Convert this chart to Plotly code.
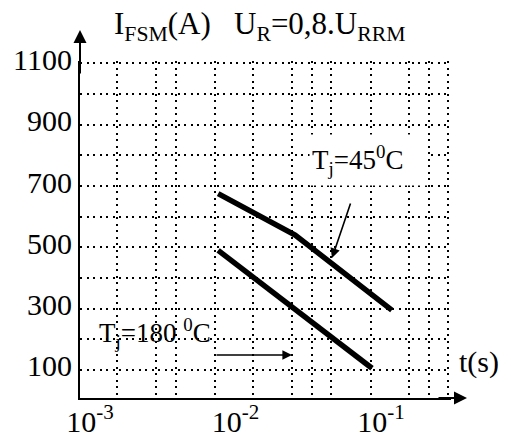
import plotly.graph_objects as go

# Surge current vs. duration, two junction temperatures
t_45 = [0.0089, 0.0301, 0.139]
i_45 = [675, 540, 295]
t_180 = [0.0089, 0.1016]
i_180 = [490, 105]

# Axis ticks
x_tick_vals = [0.001, 0.01, 0.1]
x_tick_text = ["10<sup>-3</sup>", "10<sup>-2</sup>", "10<sup>-1</sup>"]
x_grid_vals = [0.001796, 0.00333, 0.00457, 0.00847, 0.01546, 0.02864,
               0.03929, 0.0531, 0.1, 0.1823, 0.2504, 0.338]
y_tick_vals = [100, 200, 300, 400, 500, 600, 700, 800, 900, 1000, 1100]
y_tick_text = ["100", "", "300", "", "500", "", "700", "", "900", "", "1100"]

FONT = "Liberation Serif"
W, H = 511, 441
L, R, T, B = 80, 60, 61, 43
PW, PH = W - L - R, H - T - B


def px(xp):
    return (xp - L) / PW


def py(yp):
    return (H - B - yp) / PH


fig = go.Figure()
for xs, ys in [(t_45, i_45), (t_180, i_180)]:
    fig.add_trace(go.Scatter(x=xs, y=ys, mode="lines",
                             line=dict(color="black", width=5.5),
                             showlegend=False, hoverinfo="skip"))

dash = "2px,4.5px"
fig.update_xaxes(type="log", range=[-3.0, -0.4502],
                 tickmode="array", tickvals=x_tick_vals, ticktext=x_tick_text,
                 ticklabelshift=10, ticklabelstandoff=-4,
                 showgrid=False, zeroline=False,
                 showline=True, linecolor="black", linewidth=2,
                 ticks="", tickfont=dict(family=FONT, size=30, color="black"),
                 minor=dict(tickmode="array", tickvals=x_grid_vals, showgrid=True,
                            gridcolor="black", gridwidth=2, griddash=dash, ticks=""))
fig.update_yaxes(range=[8, 1108], tickmode="array", tickvals=y_tick_vals,
                 ticktext=y_tick_text, ticklabelshift=-4,
                 showgrid=True, gridcolor="black", gridwidth=2, griddash=dash,
                 zeroline=False, showline=True, linecolor="black", linewidth=2,
                 ticks="", tickfont=dict(family=FONT, size=30, color="black"))

ann = []
# axis arrows
ann.append(dict(xref="paper", yref="paper", x=px(467), y=0, ax=-30, ay=0,
                axref="pixel", ayref="pixel", text="", showarrow=True,
                arrowhead=2, arrowsize=1.3, arrowwidth=2, arrowcolor="black"))
ann.append(dict(xref="paper", yref="paper", x=0, y=py(30), ax=0, ay=45,
                axref="pixel", ayref="pixel", text="", showarrow=True,
                arrowhead=2, arrowsize=1.3, arrowwidth=2, arrowcolor="black"))
# title / axis labels
ann.append(dict(xref="paper", yref="paper", x=px(259), y=py(26),
                xanchor="center", yanchor="middle",
                text="I<sub>FSM</sub>(A)&nbsp;&nbsp;&nbsp;U<sub>R</sub>=0,8.U<sub>RRM</sub>",
                showarrow=False, font=dict(family=FONT, size=31, color="black")))
ann.append(dict(xref="paper", yref="paper", x=px(479), y=py(362), text="t(s)",
                xanchor="center", yanchor="middle",
                showarrow=False, font=dict(family=FONT, size=30, color="black")))
# curve labels
ann.append(dict(xref="paper", yref="paper", x=px(368.5), y=py(160),
                xanchor="center", yanchor="middle",
                text="T<sub>j</sub>=45<sup>0</sup>C", showarrow=False,
                bgcolor="white", width=113, height=46, align="left", borderpad=2,
                font=dict(family=FONT, size=27, color="black")))
ann.append(dict(xref="paper", yref="paper", x=px(332), y=py(258), ax=19, ay=-56,
                axref="pixel", ayref="pixel", text="", showarrow=True,
                arrowhead=2, arrowsize=1.2, arrowwidth=1.6, arrowcolor="black"))
ann.append(dict(xref="paper", yref="paper", x=px(155), y=py(333),
                xanchor="center", yanchor="middle",
                text="T<sub>j</sub>=180&nbsp;<sup>0</sup>C", showarrow=False,
                font=dict(family=FONT, size=27, color="black")))
ann.append(dict(xref="paper", yref="paper", x=px(292), y=py(355), ax=-77, ay=0,
                axref="pixel", ayref="pixel", text="", showarrow=True,
                arrowhead=2, arrowsize=1.2, arrowwidth=1.6, arrowcolor="black"))

fig.update_layout(width=W, height=H,
                  margin=dict(l=L, r=R, t=T, b=B, autoexpand=False),
                  paper_bgcolor="white", plot_bgcolor="white",
                  annotations=ann, showlegend=False)

fig.write_html("out.html")
